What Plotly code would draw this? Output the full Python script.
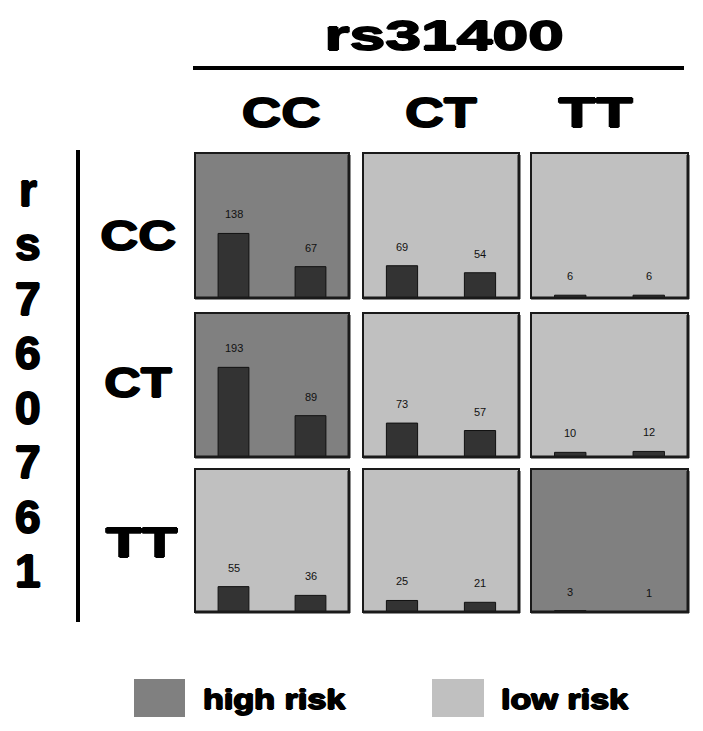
import json
import plotly.graph_objects as go

W, H = 703, 731

# ---- data ----
col_labels = ["CC", "CT", "TT"]          # rs31400 genotypes
row_labels = ["CC", "CT", "TT"]          # rs7607761 genotypes
bar_cc_cc = [138, 67]
bar_cc_ct = [69, 54]
bar_cc_tt = [6, 6]
bar_ct_cc = [193, 89]
bar_ct_ct = [73, 57]
bar_ct_tt = [10, 12]
bar_tt_cc = [55, 36]
bar_tt_ct = [25, 21]
bar_tt_tt = [3, 1]
values = [
    [bar_cc_cc, bar_cc_ct, bar_cc_tt],
    [bar_ct_cc, bar_ct_ct, bar_ct_tt],
    [bar_tt_cc, bar_tt_ct, bar_tt_tt],
]
risk = [
    ["high", "low", "low"],
    ["high", "low", "low"],
    ["low", "low", "high"],
]
bar_x = [1, 3]

# ---- styling ----
HIGH = "#808080"
LOW = "#c0c0c0"
BAR = "#333333"
BIG = "Liberation Sans"
HEAVY = "1px 0 0 black, -1px 0 0 black, 0 1px 0 black, 0 -1px 0 black"

col_px = [(195, 349), (363, 519), (531, 688)]
row_px = [(153, 298), (313, 457), (469, 612)]

def px_x(p):
    return p / W

def px_y(p):
    return 1 - p / H

def big_font(size):
    return dict(family=BIG, size=size, color="black", weight="bold", shadow=HEAVY)

fig = go.Figure()
layout = dict(
    width=W, height=H, margin=dict(l=0, r=0, t=0, b=0),
    paper_bgcolor="white", plot_bgcolor="rgba(0,0,0,0)",
    showlegend=False,
)
shapes = []
annotations = []
stretch = {}   # annotation index -> [scaleX, origin]

n = 0
for r in range(3):
    for c in range(3):
        n += 1
        xa = "x" if n == 1 else f"x{n}"
        ya = "y" if n == 1 else f"y{n}"
        xkey = "xaxis" if n == 1 else f"xaxis{n}"
        ykey = "yaxis" if n == 1 else f"yaxis{n}"
        x0, x1 = col_px[c]
        y0, y1 = row_px[r]
        layout[xkey] = dict(domain=[px_x(x0), px_x(x1)], range=[0, 4],
                            visible=False, anchor=ya, fixedrange=True)
        layout[ykey] = dict(domain=[px_y(y1), px_y(y0)], range=[0, 310],
                            visible=False, anchor=xa, fixedrange=True)
        vals = values[r][c]
        fig.add_trace(go.Bar(
            x=bar_x, y=vals, width=0.8, xaxis=xa, yaxis=ya,
            marker=dict(color=BAR, line=dict(color="#111111", width=1)),
            hoverinfo="skip",
        ))
        fill = HIGH if risk[r][c] == "high" else LOW
        shapes.append(dict(type="rect", xref="paper", yref="paper",
                           x0=px_x(x0), x1=px_x(x1), y0=px_y(y1), y1=px_y(y0),
                           fillcolor=fill, line=dict(color="#1a1a1a", width=2),
                           layer="below"))
        shapes.append(dict(type="line", xref="paper", yref="paper",
                           x0=px_x(x1), x1=px_x(x1), y0=px_y(y1 + 1), y1=px_y(y0 + 2),
                           line=dict(color="#1a1a1a", width=3)))
        shapes.append(dict(type="line", xref="paper", yref="paper",
                           x0=px_x(x0), x1=px_x(x1 + 1), y0=px_y(y1), y1=px_y(y1),
                           line=dict(color="#1a1a1a", width=3)))
        for bx, v in zip(bar_x, vals):
            annotations.append(dict(
                x=bx, y=v, xref=xa, yref=ya, text=str(v), showarrow=False,
                xanchor="center", yanchor="middle", yshift=19,
                font=dict(family="Liberation Sans", size=11, color="#111111"),
            ))

def paper_text(txt, cx, cy, size, xanchor="center", sx=None):
    if sx is not None:
        stretch[len(annotations)] = [sx, "left center" if xanchor == "left" else "center center"]
    annotations.append(dict(x=px_x(cx), y=px_y(cy), xref="paper", yref="paper",
                            text=txt, showarrow=False,
                            xanchor=xanchor, yanchor="middle",
                            font=big_font(size)))

# top header
paper_text("rs31400", 444, 35, 42, sx=1.53)
shapes.append(dict(type="line", xref="paper", yref="paper",
                   x0=px_x(193), x1=px_x(684), y0=px_y(68), y1=px_y(68),
                   line=dict(color="black", width=4)))
col_cx = [281, 441, 596]
col_sx = [1.3, 1.28, 1.45]
for lab, cx, sx in zip(col_labels, col_cx, col_sx):
    paper_text(lab, cx, 112, 42, sx=sx)

# left header
row_cy = [235, 382, 542]
row_cx = [138, 138, 142]
row_sx = [1.25, 1.2, 1.4]
for lab, cx, cy, sx in zip(row_labels, row_cx, row_cy, row_sx):
    paper_text(lab, cx, cy, 42, sx=sx)
shapes.append(dict(type="line", xref="paper", yref="paper",
                   x0=px_x(78), x1=px_x(78), y0=px_y(150), y1=px_y(622),
                   line=dict(color="black", width=4)))
side_chars = list("rs760761")
top_c, bot_c = 190, 571
step = (bot_c - top_c) / (len(side_chars) - 1)
for i, ch in enumerate(side_chars):
    paper_text(ch, 28, top_c + i * step, 46)

# legend
legend_items = [("high risk", HIGH, 134, 185, 201), ("low risk", LOW, 432, 484, 499)]
for txt, colr, bx0, bx1, tx in legend_items:
    shapes.append(dict(type="rect", xref="paper", yref="paper",
                       x0=px_x(bx0), x1=px_x(bx1), y0=px_y(717), y1=px_y(679),
                       fillcolor=colr, line=dict(width=0)))
    paper_text(txt, tx, 699, 28, xanchor="left", sx=1.22)

layout["shapes"] = shapes
layout["annotations"] = annotations
fig.update_layout(**layout)

post = """
document.body.style.margin = '0';
var gd = document.getElementById('{plot_id}');
var S = __S__;
function stretchText() {
  var gs = gd.querySelectorAll('g.annotation');
  gs.forEach(function (g) {
    var i = g.getAttribute('data-index');
    if (S[i] === undefined) return;
    var t = g.querySelector('text.annotation-text');
    if (!t) return;
    t.style.transformBox = 'fill-box';
    t.style.transformOrigin = S[i][1];
    t.style.transform = 'scaleX(' + S[i][0] + ')';
  });
}
stretchText();
try { gd.on('plotly_afterplot', stretchText); } catch (e) {}
setTimeout(stretchText, 50);
setTimeout(stretchText, 300);
""".replace("__S__", json.dumps({str(k): v for k, v in stretch.items()}))

fig.write_html("out.html", post_script=post, config={"displayModeBar": False})
